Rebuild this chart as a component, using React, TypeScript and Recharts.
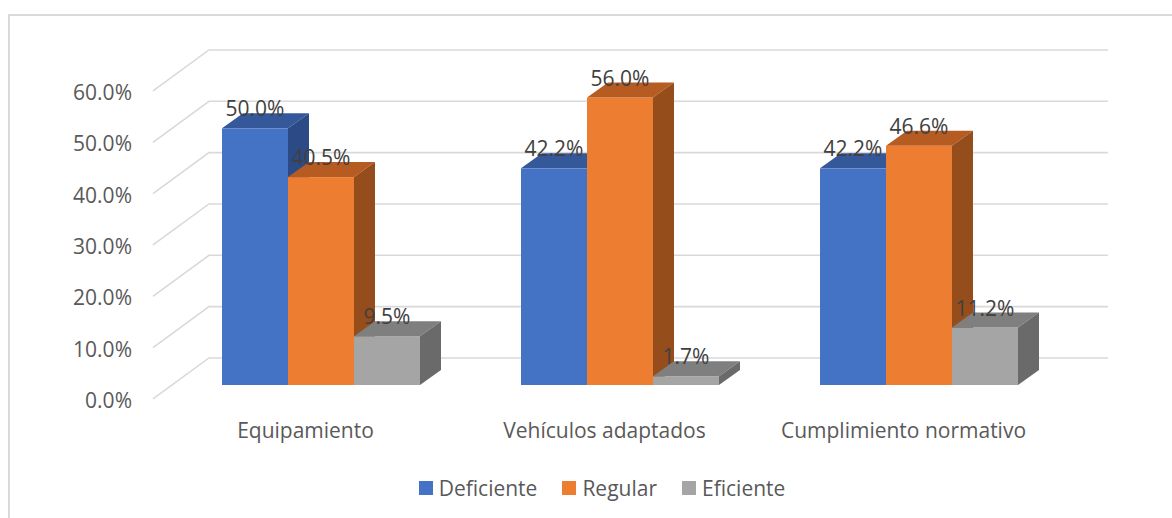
import React from "react";
import { BarChart, Bar, XAxis, YAxis, CartesianGrid, LabelList } from "recharts";

const CATEGORIES = ["Equipamiento", "Vehículos adaptados", "Cumplimiento normativo"];
const DEFICIENTE = [50.0, 42.2, 42.2];
const REGULAR = [40.5, 56.0, 46.6];
const EFICIENTE = [9.5, 1.7, 11.2];
const Y_TICKS = [0, 10, 20, 30, 40, 50, 60];

const SERIES = [
  { key: "Deficiente", values: DEFICIENTE, front: "#4472C4", top: "#34589A", side: "#2C4B86" },
  { key: "Regular", values: REGULAR, front: "#ED7D31", top: "#B65B21", side: "#964D1C" },
  { key: "Eficiente", values: EFICIENTE, front: "#A5A5A5", top: "#7F7F7F", side: "#6A6A6A" },
];

const data = CATEGORIES.map((name, i) => {
  const row: Record<string, string | number> = { name };
  SERIES.forEach((s) => {
    row[s.key] = s.values[i];
  });
  return row;
});

const W = 1172;
const H = 518;
const Y_AXIS_W = 60;
const X_AXIS_H = 40;
const MARGIN = { top: 77, right: 103, bottom: 93, left: 112 };
const PLOT_LEFT = MARGIN.left + Y_AXIS_W;
const PLOT_BOTTOM = H - MARGIN.bottom - X_AXIS_H;
const FONT = "'Open Sans', 'Noto Sans', sans-serif";
const FONT_SIZE = 21;

// floor depth of the 3D box, and how far the bars sit into it
const FLOOR = { dx: 56, dy: 41 };
const FRONT = 0.34;
const BAR_DEPTH = { dx: 21, dy: 15 };

// grid: short diagonal on the side wall, then straight across the back wall
const gridLine = (p: any) => {
  const fx = p.x1 - FLOOR.dx * FRONT;
  const fy = p.y1 + FLOOR.dy * FRONT;
  const bx = p.x1 + FLOOR.dx * (1 - FRONT);
  const by = p.y1 - FLOOR.dy * (1 - FRONT);
  const ex = p.x2 + FLOOR.dx * (1 - FRONT) + 2;
  return (
    <path
      key={`grid-${p.index}`}
      d={`M${fx},${fy} L${bx},${by} L${ex},${by}`}
      stroke="#D9D9D9"
      strokeWidth={1.6}
      fill="none"
    />
  );
};

const box3d = (colors: { front: string; top: string; side: string }) => (p: any) => {
  const { x, y, width: w, height: h } = p;
  const { dx, dy } = BAR_DEPTH;
  return (
    <g>
      <rect x={x} y={y} width={w} height={h} fill={colors.front} />
      <polygon
        points={`${x},${y} ${x + dx},${y - dy} ${x + w + dx},${y - dy} ${x + w},${y}`}
        fill={colors.top}
      />
      <polygon
        points={`${x + w},${y} ${x + w + dx},${y - dy} ${x + w + dx},${y + h - dy} ${x + w},${y + h}`}
        fill={colors.side}
      />
    </g>
  );
};

const YTick = ({ y, payload }: any) => (
  <text
    x={PLOT_LEFT - 40}
    y={y + 15}
    textAnchor="end"
    dominantBaseline="central"
    fill="#595959"
    fontSize={FONT_SIZE}
    fontFamily={FONT}
  >
    {Number(payload.value).toFixed(1)}%
  </text>
);

const XTick = ({ x, payload }: any) => (
  <text
    x={x - 16}
    y={PLOT_BOTTOM + 45}
    textAnchor="middle"
    dominantBaseline="central"
    fill="#595959"
    fontSize={FONT_SIZE}
    fontFamily={FONT}
  >
    {payload.value}
  </text>
);

const valueLabel = (p: any) => (
  <text
    x={p.x + p.width / 2}
    y={p.y - 20}
    textAnchor="middle"
    dominantBaseline="central"
    fill="#404040"
    fontSize={FONT_SIZE}
    fontFamily={FONT}
  >
    {Number(p.value).toFixed(1)}%
  </text>
);

export default function App() {
  return (
    <div style={{ position: "absolute", left: 0, top: 0, width: W, height: H, background: "#fff", overflow: "hidden" }}>
      <div
        style={{
          position: "absolute",
          left: 8,
          top: 14,
          width: W,
          height: H,
          borderTop: "2px solid #D9D9D9",
          borderLeft: "2px solid #D9D9D9",
        }}
      />
      <BarChart
        width={W}
        height={H}
        data={data}
        margin={MARGIN}
        barCategoryGap={50}
        barGap={0}
        style={{ position: "absolute", left: 0, top: 0 }}
      >
        <CartesianGrid vertical={false} horizontal={gridLine} />
        <XAxis dataKey="name" height={X_AXIS_H} axisLine={false} tickLine={false} tick={<XTick />} interval={0} />
        <YAxis
          width={Y_AXIS_W}
          domain={[0, 60]}
          ticks={Y_TICKS}
          axisLine={false}
          tickLine={false}
          tick={<YTick />}
        />
        {SERIES.map((s) => (
          <Bar key={s.key} dataKey={s.key} fill={s.front} shape={box3d(s)} isAnimationActive={false}>
            <LabelList dataKey={s.key} content={valueLabel} />
          </Bar>
        ))}
      </BarChart>
      <div
        style={{
          position: "absolute",
          left: 0,
          top: 474,
          width: W,
          boxSizing: "border-box",
          paddingLeft: 32,
          display: "flex",
          justifyContent: "center",
          gap: 25,
          fontFamily: FONT,
          fontSize: FONT_SIZE,
          color: "#595959",
        }}
      >
        {SERIES.map((s) => (
          <div key={s.key} style={{ display: "flex", alignItems: "center", gap: 6 }}>
            <span style={{ width: 14, height: 14, background: s.front, display: "inline-block" }} />
            <span>{s.key}</span>
          </div>
        ))}
      </div>
    </div>
  );
}
